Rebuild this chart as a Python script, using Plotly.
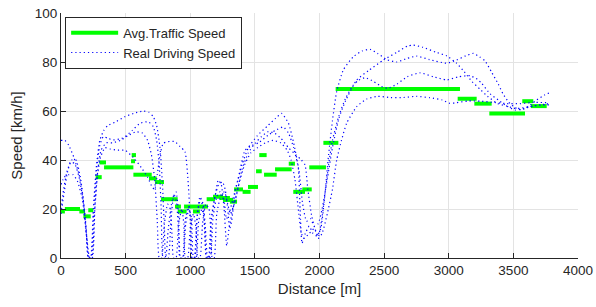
import plotly.graph_objects as go

# ---- Avg. traffic speed segments (start [m], end [m], speed [km/h]) ----
seg_start = [0, 30, 142, 173, 211, 268, 297, 333, 542, 547, 560, 681, 727, 774, 882, 903, 952, 1021,
             1127, 1176, 1230, 1253, 1307, 1339, 1405, 1447, 1509, 1534, 1571, 1656, 1762, 1797, 1867,
             1921, 2030, 2125, 3069, 3198, 3314, 3569, 3636]
seg_end = [30, 147, 186, 230, 250, 315, 348, 560, 573, 580, 702, 740, 797, 903, 928, 972, 1137, 1075,
           1191, 1253, 1307, 1331, 1362, 1408, 1467, 1524, 1553, 1591, 1669, 1785, 1810, 1888, 1940,
           2050, 2146, 3087, 3216, 3332, 3590, 3654, 3758]
seg_speed = [19, 20, 19, 17, 19.5, 33, 39, 37, 39.5, 42, 34, 32.5, 31, 24, 21, 19, 21, 19,
             24, 25, 24.5, 23.7, 23, 28, 27, 29, 35.4, 42, 34, 36.2, 38.5, 27, 28,
             37, 47, 69, 65, 63, 59, 64, 62]

# ---- Real driving speed traces ----
run1_d = [0, 30, 60, 100, 140, 170, 195, 210, 228, 250, 275, 300, 330, 360, 420, 495, 560, 637, 680, 714,
          740, 766, 785, 800, 812, 830, 850, 870, 890, 910, 925, 945, 965, 990, 1010, 1025, 1045, 1065,
          1090, 1110, 1125, 1140, 1160, 1190, 1220, 1250, 1270, 1290, 1305, 1320, 1350, 1400, 1450, 1520,
          1600, 1660, 1707, 1760, 1800, 1836, 1850, 1865, 1890, 1920, 1950, 1980, 2010, 2040, 2070, 2100,
          2133, 2184, 2262, 2330, 2391, 2450, 2520, 2597, 2680, 2752, 2850, 2984, 3061, 3130, 3190, 3240,
          3280, 3330, 3383, 3420, 3461, 3510, 3564, 3620, 3680, 3740, 3783]
run1_v = [48, 48, 46, 41, 34, 25, 12, 0, 0, 20, 38, 48, 52, 54, 55.5, 57.7, 59, 60, 59.5, 57.7,
          54, 45, 30, 12, 0, 0, 15, 25, 27, 18, 0, 0, 14, 20, 16, 0, 0, 15,
          20, 15, 0, 0, 15, 25, 30, 31, 28, 20, 12, 15, 28, 38, 45, 50,
          54, 57, 59, 55, 47, 37, 20, 6, 10, 13, 10, 9, 12, 25, 42, 56,
          68, 76.7, 82.2, 84.5, 85.2, 83.5, 81, 80, 81.5, 82.4, 81, 79.5, 80.8, 82.5, 83.5, 82,
          80.5, 76, 71, 67, 63.8, 61.5, 60.4, 62, 64.5, 66.5, 67.5]

run2_d = [0, 20, 45, 80, 115, 150, 180, 200, 212, 232, 252, 275, 300, 327, 365, 405, 469, 495, 550, 611,
          676, 714, 740, 760, 775, 790, 808, 830, 855, 875, 895, 910, 920, 940, 960, 985, 1005, 1015,
          1035, 1055, 1080, 1100, 1115, 1125, 1145, 1165, 1195, 1217, 1240, 1262, 1282, 1300, 1330, 1360,
          1400, 1450, 1501, 1550, 1604, 1650, 1700, 1760, 1820, 1860, 1888, 1910, 1940, 1965, 1991, 2015,
          2040, 2070, 2100, 2150, 2200, 2260, 2300, 2352, 2420, 2480, 2530, 2600, 2680, 2778, 2880, 2984,
          3080, 3164, 3220, 3255, 3320, 3383, 3450, 3512, 3580, 3650, 3720, 3780]
run2_v = [20, 28, 35, 40, 40, 33, 20, 8, 0, 0, 18, 36, 46, 49.5, 48.8, 48.2, 48.8, 49.5, 52, 55,
          55.6, 53.6, 48, 38, 20, 0, 0, 12, 22, 26, 22, 10, 0, 0, 15, 21, 15, 0,
          0, 18, 24, 20, 8, 0, 0, 16, 26, 31.8, 30, 20, 5, 12, 20, 26,
          36, 43, 46.8, 49.5, 51.6, 51, 49, 45, 42, 40, 38, 28, 17, 12, 8.7, 15,
          25, 38, 48, 58, 65, 70.5, 72.5, 73.6, 72, 70, 69.3, 71, 74, 75.6, 74, 72.7,
          74, 74.4, 73, 71.3, 67, 64.5, 62, 60.4, 61, 62, 62.5, 62.5]

run3_d = [0, 25, 60, 95, 130, 165, 195, 218, 238, 258, 280, 305, 340, 379, 440, 495, 560, 620, 670, 705,
          725, 745, 766, 791, 830, 882, 920, 959, 985, 1000, 1011, 1030, 1050, 1075, 1100, 1120, 1135,
          1155, 1175, 1205, 1230, 1260, 1280, 1300, 1330, 1370, 1424, 1480, 1527, 1600, 1656, 1720, 1760,
          1800, 1840, 1870, 1900, 1930, 1960, 1990, 2020, 2060, 2100, 2150, 2200, 2288, 2380, 2494, 2600,
          2680, 2726, 2800, 2900, 2984, 3061, 3120, 3180, 3240, 3300, 3380, 3450, 3520, 3600, 3700, 3780]
run3_v = [30, 33, 34, 34, 31, 24, 10, 0, 0, 18, 33, 41, 45, 44.5, 44, 44, 41, 37, 33, 29,
          28, 34, 42, 46.8, 47.5, 47.5, 45.5, 43.4, 30, 15, 0, 0, 15, 25, 22, 10, 0,
          0, 16, 25, 27, 24, 16, 18, 24, 32, 44, 46, 47, 50, 52, 53.5, 51,
          45, 36, 22, 15, 16, 13, 14, 20, 32, 45, 57, 64, 72.7, 76.5, 80.8, 84,
          86.5, 86.9, 86, 84, 82.5, 79.5, 76, 72, 69, 66, 63, 62, 61, 61.5, 62.5, 63]

run4_d = [0, 25, 50, 75, 105, 140, 175, 200, 222, 242, 262, 285, 310, 350, 400, 460, 520, 580, 630, 670,
          700, 725, 745, 760, 778, 800, 825, 845, 860, 870, 890, 910, 935, 950, 962, 980, 1000, 1025,
          1045, 1058, 1075, 1095, 1120, 1145, 1160, 1170, 1185, 1205, 1240, 1265, 1290, 1310, 1340, 1375,
          1420, 1470, 1520, 1580, 1640, 1700, 1750, 1780, 1810, 1840, 1860, 1880, 1920, 1960, 1990, 2020,
          2060, 2100, 2133, 2170, 2210, 2288, 2365, 2450, 2550, 2650, 2750, 2855, 2950, 3010, 3060, 3151,
          3250, 3350, 3450, 3550, 3650, 3768]
run4_v = [18, 27, 35, 39, 38.6, 33, 22, 8, 0, 0, 20, 36, 44, 47, 47, 48, 50, 51.5, 51, 48,
          42, 32, 15, 0, 0, 14, 22, 20, 8, 0, 0, 14, 20, 14, 0, 0, 12, 18,
          12, 0, 0, 14, 22, 20, 10, 0, 0, 18, 26, 27, 22, 18, 22, 30,
          38, 43, 45, 47, 48, 47, 44, 40, 32, 18, 10, 8, 10, 12, 8, 10,
          18, 28, 40, 48, 55, 61.8, 64.9, 66, 65.5, 65.5, 66, 65.4, 64.5, 63.1, 63.4, 64.1,
          64, 63.5, 63, 63, 63.5, 63.4]

runs = [(run1_d, run1_v), (run2_d, run2_v), (run3_d, run3_v), (run4_d, run4_v)]

TXT = "#262626"
FONT = "Liberation Sans, Arial, Helvetica, sans-serif"

fig = go.Figure()

# green segments as one trace separated by gaps
gx, gy = [], []
for s, e, v in zip(seg_start, seg_end, seg_speed):
    gx += [s, e, None]
    gy += [v, v, None]
fig.add_trace(go.Scatter(x=gx, y=gy, mode="lines", name="Avg.Traffic Speed",
                         line=dict(color="#00ff00", width=4), connectgaps=False))

for i, (d, v) in enumerate(runs):
    fig.add_trace(go.Scatter(x=d, y=v, mode="lines", name="Real Driving Speed",
                             showlegend=(i == 0), legendgroup="real",
                             line=dict(color="#0000ff", width=1.2, dash="1.2px,3px",
                                       shape="spline", smoothing=0.5)))

fig.update_layout(
    width=596, height=307,
    margin=dict(l=61, r=18, t=13, b=49, autoexpand=False),
    paper_bgcolor="white", plot_bgcolor="white",
    font=dict(family=FONT, color=TXT, size=13),
    showlegend=True,
    legend=dict(x=0.008, y=0.985, xanchor="left", yanchor="top",
                bgcolor="white", bordercolor=TXT, borderwidth=1,
                font=dict(size=13, color=TXT), tracegroupgap=0,
                itemwidth=47),
    xaxis=dict(range=[0, 4000], dtick=500, tick0=0, showgrid=True, gridcolor="#e3e3e3",
               zeroline=False, showline=True, linecolor=TXT, linewidth=1,
               ticks="inside", ticklen=5, tickcolor=TXT, automargin=False,
               ticklabeloverflow="allow",
               tickfont=dict(size=13.5, color=TXT),
               title=dict(text="Distance [m]", font=dict(size=15, color=TXT), standoff=6)),
    yaxis=dict(range=[0, 100], dtick=20, tick0=0, showgrid=True, gridcolor="#e3e3e3",
               zeroline=False, showline=True, linecolor=TXT, linewidth=1,
               ticks="inside", ticklen=5, tickcolor=TXT, automargin=False,
               ticklabeloverflow="allow",
               tickfont=dict(size=13.5, color=TXT),
               title=dict(text="Speed [km/h]", font=dict(size=15, color=TXT), standoff=8)),
)

# remove the default 8px page margin so the figure fills the window exactly
fig.write_html("out.html", config={"displayModeBar": False},
               post_script="document.body.style.margin='0';document.body.style.overflow='hidden';")
